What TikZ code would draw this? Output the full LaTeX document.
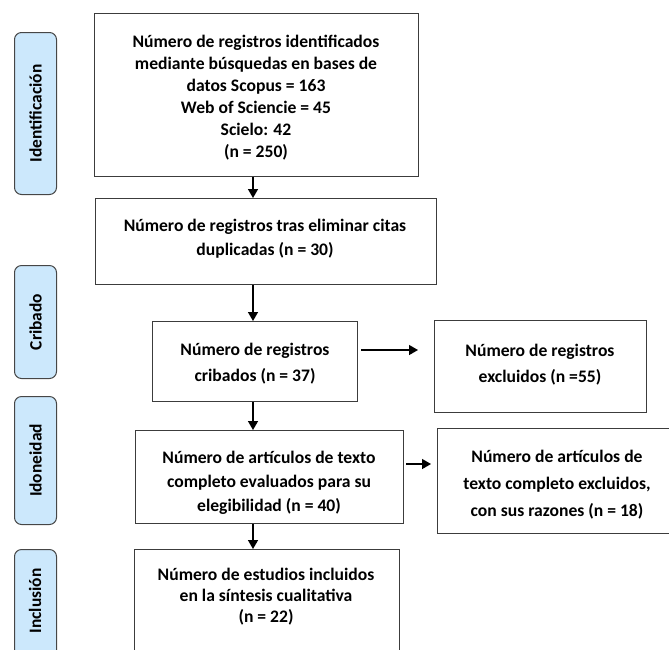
\documentclass[tikz,border=0pt]{standalone}
\usepackage{fontspec}
\setmainfont{Carlito}
\usetikzlibrary{arrows.meta}
\definecolor{sidefill}{RGB}{204,232,252}
\definecolor{sidedraw}{RGB}{70,70,70}
\definecolor{boxdraw}{RGB}{60,60,60}
\tikzset{
  box/.style={draw=boxdraw, line width=1pt, fill=white, rectangle, anchor=north west, inner sep=0pt},
  side/.style={draw=sidedraw, line width=1pt, fill=sidefill, rounded corners=7pt, rectangle, anchor=north west, inner sep=0pt},
  sidetxt/.style={rotate=90, font=\fontsize{17.4}{20}\selectfont\bfseries, inner sep=0pt},
  txt/.style={align=center, inner sep=0pt},
  arr/.style={line width=1.4pt, -{Triangle[length=9pt,width=10pt]}}
}
\newcommand{\bx}[1]{\fontsize{17.6}{#1}\selectfont\bfseries}
\begin{document}
\begin{tikzpicture}[x=1pt,y=-1pt]
\useasboundingbox (0,0) rectangle (669,649);
\clip (0,0) rectangle (669,649);
% side labels
\node[side, minimum width=42pt, minimum height=162pt] (s1) at (14,32) {};
\node[sidetxt] (s1t) at (s1.center) {Identificación};
\node[side, minimum width=42pt, minimum height=113pt] (s2) at (14,265) {};
\node[sidetxt] (s2t) at (s2.center) {Cribado};
\node[side, minimum width=42pt, minimum height=128pt] (s3) at (14,396) {};
\node[sidetxt] (s3t) at (s3.center) {Idoneidad};
\node[side, minimum width=42pt, minimum height=120pt] (s4) at (14,549) {};
\node[sidetxt] (s4t) at (35,601) {Inclusión};
% boxes
\node[box, minimum width=324pt, minimum height=163pt] (b1) at (94,13) {};
\node[txt, font=\bx{22}] (t1) at (256,98) {Número de registros identificados\\mediante búsquedas en bases de\\datos Scopus = 163\\Web of Sciencie = 45\\Scielo: 42\\(n = 250)};
\node[box, minimum width=341pt, minimum height=86pt] (b2) at (94.5,198) {};
\node[txt, font=\bx{24}] (t2) at (265,239) {Número de registros tras eliminar citas\\duplicadas (n = 30)};
\node[box, minimum width=205pt, minimum height=80pt] (b3) at (152,321) {};
\node[txt, font=\bx{26}] (t3) at (255,364) {Número de registros\\cribados (n = 37)};
\node[box, minimum width=212pt, minimum height=92pt] (b4) at (434,320) {};
\node[txt, font=\bx{26}] (t4) at (540,365) {Número de registros\\excluidos (n =55)};
\node[box, minimum width=268pt, minimum height=93pt] (b5) at (135,430) {};
\node[txt, font=\bx{24}] (t5) at (269,483) {Número de artículos de texto\\completo evaluados para su\\elegibilidad (n = 40)};
\node[box, minimum width=240pt, minimum height=105pt] (b6) at (437,428) {};
\node[txt, font=\bx{27}] (t6) at (557,485) {Número de artículos de\\texto completo excluidos,\\con sus razones (n = 18)};
\node[box, minimum width=265pt, minimum height=120pt] (b7) at (134,549) {};
\node[txt, font=\bx{21}] (t7) at (266,597) {Número de estudios incluidos\\en la síntesis cualitativa\\(n = 22)};
% connectors
\coordinate (ax) at (253,0);
\draw[arr] (ax |- b1.south) -- (ax |- b2.north);
\draw[arr] (ax |- b2.south) -- (ax |- b3.north);
\draw[arr] (ax |- b3.south) -- (ax |- b5.north);
\draw[arr] (ax |- b5.south) -- (ax |- b7.north);
\coordinate (r1) at (0,350);
\draw[arr, shorten <=3pt, shorten >=16pt] (b3.east |- r1) -- (b4.west |- r1);
\coordinate (r2) at (0,464);
\draw[arr, shorten <=2pt, shorten >=6pt] (b5.east |- r2) -- (b6.west |- r2);
\end{tikzpicture}
\end{document}
